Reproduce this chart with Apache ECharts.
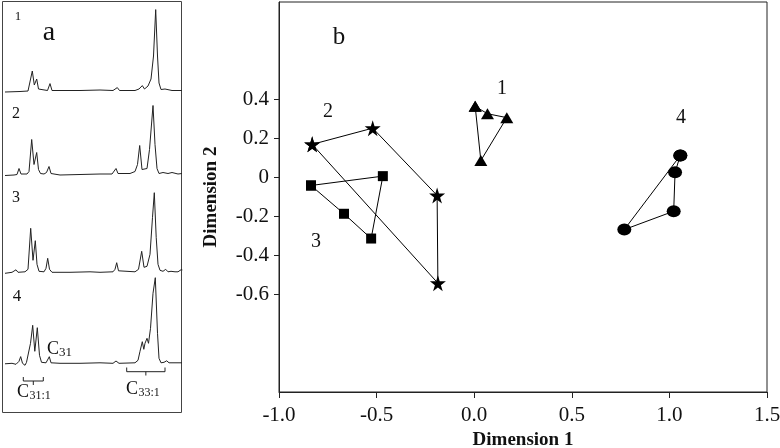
<!DOCTYPE html>
<html>
<head>
<meta charset="utf-8">
<script src="https://cdn.jsdelivr.net/npm/echarts@6/dist/echarts.min.js"></script>
<style>
  html, body { margin: 0; padding: 0; background: #fff; }
  #chart { width: 780px; height: 448px; }
</style>
</head>
<body>
<div id="chart"></div>
<script>
// panel a: chromatogram traces, [retention (a.u.), intensity (a.u.)]
const trace1 = [[0,-1],[15,-0.5],[23,0],[25,2],[27.3,20],[29.3,6],[31.7,12],[33.5,2],[35,0.5],[42.5,0.5],[45,7.4],[47,0.5],[55,0.5],[75,0.5],[95,1],[108,0.5],[110,1.5],[112.3,3.4],[114.5,0.5],[130,0.5],[134,2],[137.3,5.4],[139.5,2],[143,5],[146,12],[148.5,35],[150.7,81.4],[152.5,35],[154,8],[156,1.5],[158,0.5],[160,2],[162,0.5],[167,0.5],[169,2],[171,0.5],[177,0.5]]
const trace2 = [[0,-1],[9,-0.5],[12,0],[14,6],[16,0.5],[22,0.5],[24,3],[26.7,35],[29,10],[31.7,22],[33.5,5],[35.5,1],[39,0.5],[41.5,2],[44,8],[46,1],[48,0],[55,-0.5],[75,0],[95,0.5],[107,0.5],[109,1.5],[111,6],[113,1],[125,1],[130,3],[132.5,10],[134.7,29],[137,5],[139,3],[142,6],[144.5,25],[148,69],[150,30],[152,6],[154,1],[158,2],[160,0.5],[163,1],[167,2],[169,0.5],[173,0.5],[175,2],[177,1]]
const trace3 = [[0,-1],[7,0],[9,0],[11,2.5],[13,0],[20,0.5],[23,3],[25.7,44],[28,12],[30.3,31.6],[32,8],[34,1],[39,0.5],[41,4],[42.7,14],[44.5,3],[47,0],[65,0],[85,0.5],[95,0],[108,0.5],[110,3],[111.7,9.6],[113.5,1.5],[115,0],[130,0.5],[133.5,3],[136.7,21],[139,5],[142,6],[145,18],[147.5,55],[149.3,79.6],[151.2,35],[153,8],[155,2],[158,1],[160.7,3],[163,0.5],[166,1],[168,3],[170,0.5],[173,0.5],[176.7,3],[177,2]]
const trace4 = [[0,-0.5],[7,0],[11,-1],[14,2],[15.7,6.7],[17.5,0],[20,-2],[21.5,1],[23,2],[25.5,20],[27.7,38],[29.8,12],[32.3,35.6],[34.5,8],[36.5,1],[41,0.5],[44.3,6.6],[46,0.5],[55,0],[75,0],[95,0.5],[108,0],[111,2.3],[114,0],[130,0.5],[133,3],[135,12],[137.3,21.6],[138.8,14],[140,20],[142,25],[143.5,20],[145.5,35],[148,70],[150.3,85.6],[152.5,30],[154,5],[156,0.5],[159,1],[161.7,2.5],[164,0.5],[168,0.5],[170,2],[172,0.5],[177,0.5]]
const traces = [trace1, trace2, trace3, trace4]
const traceTops = [1, 84.5, 182.3, 273.3]

// panel b: MDS groups, [Dimension 1, Dimension 2]
const group1 = [[0.005, 0.365], [0.068, 0.327], [0.167, 0.307], [0.034, 0.087]]
const group2 = [[-0.83, 0.17], [-0.52, 0.253], [-0.19, -0.092], [-0.186, -0.542]]
const group3 = [[-0.836, -0.041], [-0.468, 0.007], [-0.528, -0.313], [-0.667, -0.186]]
const group4 = [[1.056, 0.113], [1.029, 0.027], [1.022, -0.173], [0.769, -0.267]]
const yTickValues = [-0.6, -0.4, -0.2, 0, 0.2, 0.4]

const serif = 'Liberation Serif'
const starPath = 'path://M50,0 L61,35 L98,35 L68,57 L79,91 L50,70 L21,91 L32,57 L2,35 L39,35 Z'

let grids = []
let xAxes = []
let yAxes = []
let series = []

traces.forEach((t, i) => {
  grids.push({ left: 5, width: 177, top: traceTops[i], height: 95, outerBoundsMode: 'none' })
  xAxes.push({ gridIndex: i, type: 'value', min: 0, max: 177, show: false })
  yAxes.push({ gridIndex: i, type: 'value', min: -5, max: 90, show: false })
  series.push({
    type: 'line',
    xAxisIndex: i,
    yAxisIndex: i,
    data: t,
    showSymbol: false,
    lineStyle: { color: '#222', width: 1 },
    silent: true
  })
})

// scatter panel
grids.push({
  left: 279, right: 13, top: 2, bottom: 56,
  outerBoundsMode: 'none',
  show: true, borderColor: '#222', borderWidth: 1
})
xAxes.push({
  gridIndex: 4,
  type: 'value',
  min: -1, max: 1.5, interval: 0.5,
  name: 'Dimension 1',
  nameLocation: 'middle',
  nameGap: 28,
  nameTextStyle: { fontFamily: serif, fontWeight: 'bold', fontSize: 19, color: '#111' },
  axisLine: { onZero: false, lineStyle: { color: '#222' } },
  axisTick: { length: 6, lineStyle: { color: '#222' } },
  axisLabel: {
    fontFamily: serif, fontSize: 21, color: '#111', margin: 13,
    formatter: v => v.toFixed(1)
  },
  splitLine: { show: false }
})
yAxes.push({
  gridIndex: 4,
  type: 'value',
  min: -1.1, max: 0.9,
  name: 'Dimension 2',
  nameLocation: 'middle',
  nameGap: 58,
  nameTextStyle: { fontFamily: serif, fontWeight: 'bold', fontSize: 19, color: '#111' },
  axisLine: { show: true, onZero: false, lineStyle: { color: '#222' } },
  axisTick: { length: 5, customValues: yTickValues, lineStyle: { color: '#222' } },
  axisLabel: {
    fontFamily: serif, fontSize: 21, color: '#111', margin: 10,
    customValues: yTickValues,
    formatter: v => (Math.abs(v) < 1e-9 ? '0' : v.toFixed(1))
  },
  splitLine: { show: false }
})

function groupSeries(pts, symbol, size) {
  return {
    type: 'line',
    xAxisIndex: 4,
    yAxisIndex: 4,
    data: pts.concat([pts[0]]),
    symbol: symbol,
    symbolSize: size,
    showAllSymbol: true,
    itemStyle: { color: '#000' },
    lineStyle: { color: '#000', width: 1 },
    silent: true
  }
}
series.push(groupSeries(group1, 'triangle', [13, 11]))
series.push(groupSeries(group2, starPath, 16))
series.push(groupSeries(group3, 'rect', 10))
series.push(groupSeries(group4, 'circle', [14, 12]))

function txt(x, y, s, size, extra) {
  return {
    type: 'text', x: x, y: y, silent: true,
    style: Object.assign({
      text: s, fontFamily: serif, fontSize: size, fill: '#111',
      align: 'center', verticalAlign: 'middle'
    }, extra || {})
  }
}
function bracket(x1, x2, yLine, yEnd, yTick) {
  let xm = (x1 + x2) / 2
  return [
    { type: 'polyline', silent: true, shape: { points: [[x1, yEnd], [x1, yLine], [x2, yLine], [x2, yEnd]] }, style: { stroke: '#222', lineWidth: 1, fill: null } },
    { type: 'line', silent: true, shape: { x1: xm, y1: yLine, x2: xm, y2: yTick }, style: { stroke: '#222', lineWidth: 1 } }
  ]
}

let graphics = [
  { type: 'rect', silent: true, shape: { x: 2.5, y: 1.5, width: 179, height: 411 }, style: { stroke: '#444', lineWidth: 1, fill: null } },
  txt(18, 17, '1', 13),
  txt(49, 33, 'a', 28),
  txt(16, 114, '2', 16),
  txt(16, 198, '3', 16),
  txt(17, 297, '4', 17),
  txt(53, 349, 'C', 18),
  txt(59, 353, '31', 13, { align: 'left' }),
  txt(23, 392, 'C', 18),
  txt(29.5, 396, '31:1', 12, { align: 'left' }),
  txt(132, 389, 'C', 18),
  txt(138.5, 393, '33:1', 12, { align: 'left' }),
  txt(339, 37, 'b', 25),
  txt(502, 89, '1', 20),
  txt(328, 112, '2', 20),
  txt(316, 242, '3', 20),
  txt(681, 118, '4', 20)
]
graphics = graphics.concat(bracket(23.3, 43.3, 381, 377, 385))
graphics = graphics.concat(bracket(126.7, 165, 371.7, 367.5, 375.5))

let option = {
  animation: false,
  backgroundColor: '#fff',
  grid: grids,
  xAxis: xAxes,
  yAxis: yAxes,
  series: series,
  graphic: graphics
}

let mychart = echarts.init(document.getElementById('chart'), null, { renderer: 'canvas' })
mychart.setOption(option)
</script>
</body>
</html>
